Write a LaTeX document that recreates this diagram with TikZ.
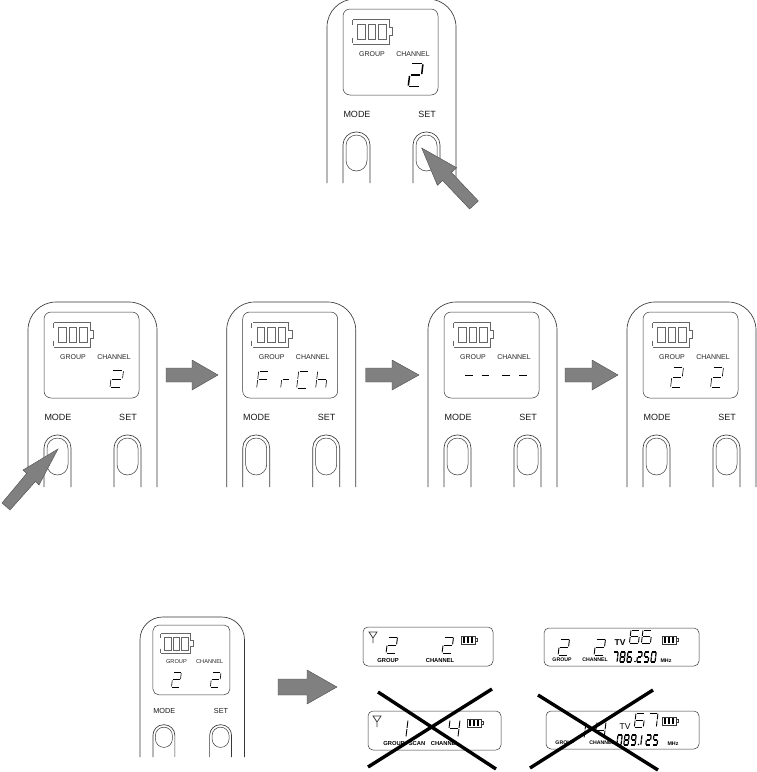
\documentclass[tikz,border=0pt]{standalone}
\usepackage{fontspec}
\setmainfont{Liberation Sans}
\definecolor{arrowgray}{gray}{0.5}
\definecolor{inkline}{gray}{0.22}
\definecolor{batline}{gray}{0.4}
\tikzset{
  x=1pt,y=-1pt,
  devline/.style={draw=inkline,line width=0.65pt},
  thinline/.style={draw=inkline,line width=0.5pt},
  batteryline/.style={draw=batline,line width=0.5pt},
  digthin/.style={draw=black,line width=0.6pt},
  digmid/.style={draw=black,line width=0.9pt},
  digfat/.style={draw=black,line width=1.5pt},
  digfreq/.style={draw=black,line width=1.2pt},
  fatarrow/.style={fill=arrowgray,draw=black!70,line width=0.4pt,line join=miter},
  crossbar/.style={draw=black,line width=3.4pt},
  smalllab/.style={font=\fontsize{7}{7}\selectfont,inner sep=0pt,text=black!85},
  btnlab/.style={font=\fontsize{9}{9}\selectfont,inner sep=0pt,text=black!90},
  panellab/.style={font=\bfseries\fontsize{5.8}{6}\selectfont,inner sep=0pt},
  panellabs/.style={font=\bfseries\fontsize{5.2}{6}\selectfont,inner sep=0pt},
  tvlab/.style={font=\bfseries\fontsize{8.5}{9}\selectfont,inner sep=0pt},
  mhzlab/.style={font=\bfseries\fontsize{5.3}{6}\selectfont,inner sep=0pt},
}
\def\Sa{\draw[dstyle] (.1,0)--(.9,0);}
\def\Sb{\draw[dstyle] (1,.08)--(1,.92);}
\def\Sc{\draw[dstyle] (1,1.08)--(1,1.92);}
\def\Sd{\draw[dstyle] (.1,2)--(.9,2);}
\def\Se{\draw[dstyle] (0,1.08)--(0,1.92);}
\def\Sf{\draw[dstyle] (0,.08)--(0,.92);}
\def\Sg{\draw[dstyle] (.1,1)--(.9,1);}
\def\DTwo{\Sa\Sb\Sg\Se\Sd}
\def\DOne{\Sb\Sc}
\def\DFour{\Sf\Sg\Sb\Sc}
\def\DSix{\Sa\Sf\Sg\Se\Sd\Sc}
\def\DSeven{\Sa\Sb\Sc}
\def\DEight{\Sa\Sb\Sc\Sd\Se\Sf\Sg}
\def\DFive{\Sa\Sf\Sg\Sc\Sd}
\def\DZero{\Sa\Sb\Sc\Sd\Se\Sf}
\def\DNine{\Sa\Sb\Sg\Sf\Sc\Sd}
% [style]{x}{y}{width}{half height}{segments}
\newcommand\dig[6][digthin]{%
  \begin{scope}[shift={(#2,#3)},x=#4pt,y=-#5pt,xslant=0.12,dstyle/.style={#1}]#6\end{scope}}
% [radius factor]{name}{height}: device drawn at current origin
\newcommand\device[3][1]{%
  \draw[devline,rounded corners=#1*28pt] (0,#3)--(0,0)--(129,0)--(129,#3);
  \draw[thinline,rounded corners=#1*7pt] (16,10) rectangle (111,96);
  \draw[batteryline] (26,20)--(62,20)--(62,28.5)--(65.5,28.5)--(65.5,36)--(62,36)--(62,45)--(26,45);
  \draw[batteryline] (25,21)--(25,26) (25,39)--(25,44);
  \foreach \cx in {30.5,41,51.5}{\draw[batteryline] (\cx,25) rectangle ++(7.5,15.5);}
  \node[smalllab] (#2group) at (45,55.5) {GROUP};
  \node[smalllab] (#2channel) at (86,55.5) {CHANNEL};
  \node[btnlab] (#2mode) at (30,115.5) {MODE};
  \node[btnlab] (#2set) at (100,115.5) {SET};
  \foreach \bx in {16,86}{
    \draw[devline,rounded corners=#1*13pt] (\bx,#3)--(\bx,133)--(\bx+27,133)--(\bx+27,#3);
    \draw[thinline,rounded corners=#1*10.5pt] (\bx+3,136) rectangle (\bx+24,#3-12);
  }}
% small battery and antenna of the panels
\newcommand\sbat[2]{%
  \draw[thinline] (#1,#2) rectangle ++(14,8);
  \draw[thinline] (#1+14,#2+2.5) rectangle ++(2,3);
  \foreach \k in {2,6,10}{\fill[black] (#1+\k,#2+1) rectangle ++(2.2,6);}}
\newcommand\antenna[2]{%
  \draw[thinline,line width=0.7pt] (#1-4,#2-5)--(#1+4,#2-5)--(#1,#2+1)--cycle (#1,#2+1)--(#1,#2+6);}
\begin{document}
\begin{tikzpicture}
\useasboundingbox (0,0) rectangle (756,772);
\fill[white] (0,0) rectangle (756,772);

% --- top device
\begin{scope}[shift={(327,-1)}]
  \device{a}{184}
  \dig[digfat]{84}{64.5}{12}{11.5}{\DTwo}
\end{scope}
\path[fatarrow] (421.7,148)--(456.6,167.7)--(451.4,172.5)--(478.4,201)--(469.6,209)--(442.6,180.5)--(437.4,185.3)--cycle;

% --- middle row
\begin{scope}[shift={(28,302)}]
  \device{b}{185}
  \dig{84}{68.5}{11.5}{8.5}{\DTwo}
\end{scope}
\begin{scope}[shift={(226.7,302)}]
  \device{c}{185}
  \dig{32}{69}{10}{8.5}{\Sa\Sf\Sg\Se}
  \dig{56}{69}{8.5}{8.5}{\Sg\Se}
  \dig{72}{69}{10}{8.5}{\Sa\Sf\Se\Sd}
  \dig{91}{69}{10}{8.5}{\Sf\Se\Sg\Sc}
\end{scope}
\begin{scope}[shift={(428,302)}]
  \device{d}{185}
  \foreach \dx in {37,53.5,74,91}{\draw[digthin] (\dx,73.5)--++(7.5,0);}
\end{scope}
\begin{scope}[shift={(627,302)}]
  \device{e}{185}
  \dig{46}{65}{10.5}{10.2}{\DTwo}
  \dig{86}{65}{10.5}{10.2}{\DTwo}
\end{scope}
\path[fatarrow] (166,368)--(192,368)--(192,360)--(218,375)--(192,390)--(192,382)--(166,382)--cycle;
\path[fatarrow] (365.7,368)--(392,368)--(392,360)--(419,375)--(392,390)--(392,382)--(365.7,382)--cycle;
\path[fatarrow] (565,368)--(592,368)--(592,360)--(618,375)--(592,390)--(592,382)--(565,382)--cycle;
\path[fatarrow] (58,449)--(39,485)--(35.4,481.5)--(10,510)--(2,503)--(26.6,473.5)--(23,470)--cycle;

% --- bottom device
\begin{scope}[shift={(140,617)},scale=0.81,transform shape]
  \device[0.81]{f}{173}
  \dig[digthin]{41}{68.5}{10}{9}{\DTwo}
  \dig[digthin]{89}{68.5}{11}{9}{\DTwo}
\end{scope}
\path[fatarrow] (278,679)--(307,679)--(307,670)--(337,687)--(307,704)--(307,695)--(278,695)--cycle;

% --- panel 1
\draw[thinline,rounded corners=5pt] (363,627) rectangle (493,666);
\antenna{373}{637}
\dig[digmid]{388}{637}{9.5}{8}{\DTwo}
\dig[digmid]{444}{637}{9.5}{8}{\DTwo}
\sbat{461}{636}
\node[panellab] (p1group) at (388,660) {GROUP};
\node[panellab] (p1channel) at (440,660) {CHANNEL};

% --- panel 2
\draw[thinline,rounded corners=5pt] (368,711) rectangle (501,750);
\antenna{377}{721}
\dig[digmid]{400}{720}{8}{8.5}{\DOne}
\dig[digmid]{450}{720}{10}{8.5}{\DFour}
\sbat{467}{719}
\node[panellab] (p2group) at (394,743) {GROUP};
\node[panellab] (p2scan) at (417,743) {SCAN};
\node[panellab] (p2channel) at (445,743) {CHANNEL};

% --- panel 3
\draw[thinline,rounded corners=5pt] (544,628) rectangle (699,666);
\dig[digmid]{560}{639}{9.5}{8}{\DTwo}
\dig[digmid]{596}{639}{9.5}{8}{\DTwo}
\node[tvlab] (p3tv) at (620,643) {TV};
\dig[digmid]{631}{630}{9}{6.5}{\DSix}
\dig[digmid]{643}{630}{9}{6.5}{\DSix}
\sbat{662}{636}
\dig[digfreq]{614}{652}{4.2}{5}{\DSeven}
\dig[digfreq]{621}{652}{4.2}{5}{\DEight}
\dig[digfreq]{628}{652}{4.2}{5}{\DSix}
\fill (635,661.5) circle (0.9);
\dig[digfreq]{638}{652}{4.2}{5}{\DTwo}
\dig[digfreq]{645}{652}{4.2}{5}{\DFive}
\dig[digfreq]{652}{652}{4.2}{5}{\DZero}
\node[mhzlab] (p3mhz) at (666,660.5) {MHz};
\node[panellabs] (p3group) at (562,660) {GROUP};
\node[panellabs] (p3channel) at (595,660) {CHANNEL};

% --- panel 4
\draw[thinline,rounded corners=5pt] (546,711) rectangle (699,749);
\dig[digmid]{578}{722}{8}{8}{\DOne}
\dig[digmid]{597}{722}{9}{8}{\DFour}
\node[tvlab,font=\fontsize{8.5}{9}\selectfont] (p4tv) at (625,727) {TV};
\dig[digmid]{636}{713}{9}{7}{\DSix}
\dig[digmid]{649}{713}{9}{7}{\DSeven}
\sbat{662}{717}
\dig[digfreq]{618}{735}{4.2}{5}{\DZero}
\dig[digfreq]{625}{735}{4.2}{5}{\DEight}
\dig[digfreq]{632}{735}{4.2}{5}{\DNine}
\fill (638.5,744.5) circle (0.9);
\dig[digfreq]{639}{735}{3}{5}{\DOne}
\dig[digfreq]{647}{735}{4.2}{5}{\DTwo}
\dig[digfreq]{654}{735}{4.2}{5}{\DFive}
\node[mhzlab] (p4mhz) at (673,743.5) {MHz};
\node[panellabs] (p4group) at (565,743) {GROUP};
\node[panellabs] (p4channel) at (602,743) {CHANNEL};

% --- crosses
\draw[crossbar] (378,692)--(496,769) (492,689)--(368,767);
\draw[crossbar] (538,695)--(658,770) (653,690)--(530,768);
\end{tikzpicture}
\end{document}
